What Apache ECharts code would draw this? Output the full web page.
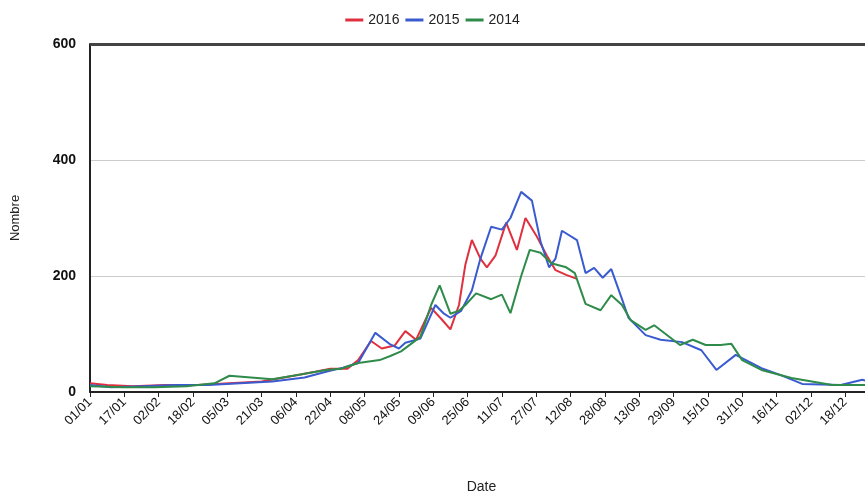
<!DOCTYPE html>
<html><head><meta charset="utf-8">
<script src="https://cdn.jsdelivr.net/npm/echarts@6/dist/echarts.min.js"></script>
<style>html,body{margin:0;padding:0;background:#fff}#c{width:865px;height:494px}</style>
</head><body><div id="c"></div>
<script>
const tickLabels = ['01/01','17/01','02/02','18/02','05/03','21/03','06/04','22/04','08/05','24/05','09/06','25/06','11/07','27/07','12/08','28/08','13/09','29/09','15/10','31/10','16/11','02/12','18/12'];
const days2016 = [0,8,20,35,50,65,80,95,105,112,120,125,131,136,142,147,152,159,164,168,172,175,178,182,185,189,194,199,203,208,213,217,222,227];
const vals2016 = [15,12,10,12,12,15,18,28,35,40,40,55,88,75,80,105,90,145,125,108,150,220,262,230,215,235,292,245,300,270,235,210,202,195];
const days2015 = [0,10,25,40,55,70,85,100,110,118,125,133,140,144,147,154,161,165,168,173,178,182,187,192,196,201,206,210,214,217,220,227,231,235,239,243,248,251,259,266,276,285,292,301,313,322,332,350,360,365];
const vals2015 = [12,8,10,12,12,15,18,25,35,42,50,102,82,75,85,92,150,135,128,140,175,230,285,280,300,345,330,260,215,230,278,262,205,214,197,212,160,128,98,90,86,72,38,64,41,29,14,12,21,16];
const days2014 = [0,15,30,45,58,65,75,85,98,110,117,125,135,140,145,154,159,163,168,172,175,180,187,192,196,201,205,210,215,222,226,231,238,243,248,252,259,263,275,281,287,294,299,304,313,327,346,365];
const vals2014 = [10,8,8,10,15,28,25,22,30,38,40,50,55,62,70,95,150,184,135,140,150,170,160,168,136,200,245,240,222,215,205,152,141,167,150,124,107,115,81,90,81,81,83,55,38,24,12,12];
const pairs = (d, v) => d.map((x, i) => [x, v[i]]);
const chart = echarts.init(document.getElementById('c'));
const mk = (name, d, v, color) => ({name, type:'line', data:pairs(d,v), showSymbol:false, smooth:false,
  lineStyle:{width:2, color}, itemStyle:{color}});
const font = 'Liberation Sans';
chart.setOption({
  animation:false,
  legend:{top:8, left:'center', itemWidth:18, itemHeight:3, itemGap:6, icon:'rect',
    textStyle:{color:'#222', fontSize:14, fontFamily:font}},
  grid:{left:90, width:783, top:44, height:348, outerBoundsMode:'none', containLabel:false},
  xAxis:{type:'value', min:0, max:365, interval:16, name:'Date', nameLocation:'middle', nameGap:88,
    nameTextStyle:{color:'#222', fontSize:14, fontFamily:font},
    axisLine:{lineStyle:{color:'#222', width:2}}, axisTick:{show:true, length:5, lineStyle:{color:'#222'}},
    splitLine:{show:false},
    axisLabel:{rotate:45, color:'#111', fontSize:13, fontFamily:font, margin:8,
      formatter:v => tickLabels[Math.round(v/16)] || ''}},
  yAxis:{type:'value', min:0, max:600, interval:200, name:'Nombre', nameLocation:'middle', nameGap:68,
    nameTextStyle:{color:'#222', fontSize:13, fontFamily:font},
    axisLine:{show:true, lineStyle:{color:'#222', width:2}}, axisTick:{show:false},
    splitLine:{lineStyle:{color:'#ccc'}},
    axisLabel:{color:'#111', fontSize:14, fontWeight:'bold', fontFamily:font, margin:14}},
  series:[
    mk('2016', days2016, vals2016, '#e0303f'),
    mk('2015', days2015, vals2015, '#3a5bd0'),
    mk('2014', days2014, vals2014, '#2e8b4a'),
    {type:'line', data:[], markLine:{silent:true, symbol:'none', label:{show:false},
      lineStyle:{color:'#444', width:3, type:'solid'}, data:[{yAxis:600}]}}
  ]
});
</script></body></html>
